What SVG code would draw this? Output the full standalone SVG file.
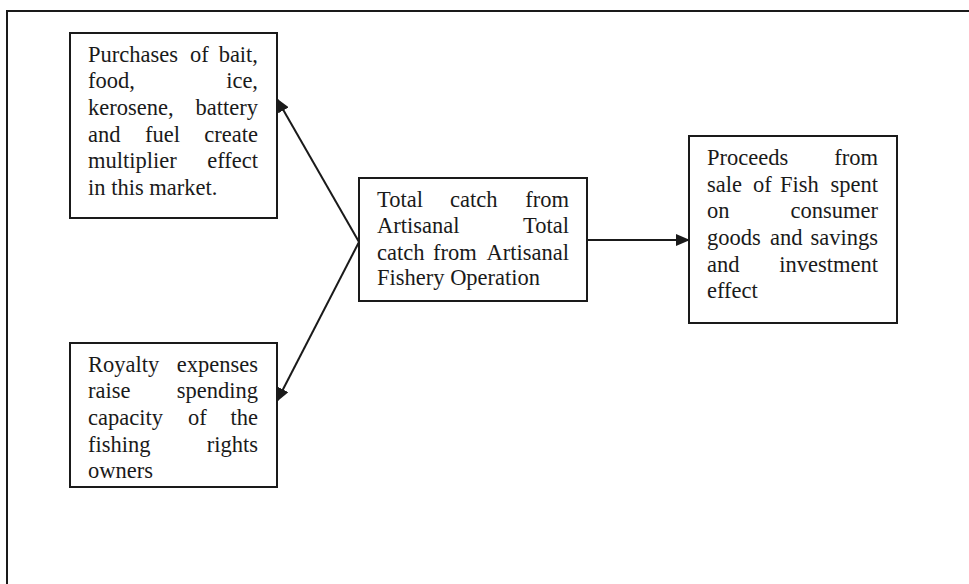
<svg xmlns="http://www.w3.org/2000/svg" width="969" height="584" viewBox="0 0 969 584">
<style>
.box{fill:#fff;stroke:#1a1a1a;stroke-width:2}
.frame{fill:none;stroke:#1a1a1a;stroke-width:2}
.edge{stroke:#1a1a1a;stroke-width:2;fill:none}
text{font-family:"Liberation Serif","Times New Roman",serif;font-size:22.5px;fill:#1a1a1a}
.r{text-anchor:end}
</style>
<defs>
<marker id="ah" markerUnits="userSpaceOnUse" markerWidth="14" markerHeight="12" refX="13" refY="6" orient="auto">
<path d="M0,0 L14,6 L0,12 Z" fill="#1a1a1a"/>
</marker>
</defs>
<rect width="969" height="584" fill="#fff"/>
<path class="frame" d="M7,584 V11 H969"/>
<g id="connectors">
<path class="edge" d="M359,242 L277,99" marker-end="url(#ah)"/>
<path class="edge" d="M359,242 L277,401" marker-end="url(#ah)"/>
<path class="edge" d="M587,240 L689,240" marker-end="url(#ah)"/>
</g>
<g id="purchases">
<rect class="box" x="70" y="33" width="207" height="185"/>
<text x="88" y="62">Purchases</text><text x="190" y="62">of</text><text class="r" x="258" y="62">bait,</text>
<text x="88" y="88">food,</text><text class="r" x="258" y="88">ice,</text>
<text x="88" y="115">kerosene,</text><text class="r" x="258" y="115">battery</text>
<text x="88" y="142">and</text><text x="145" y="142">fuel</text><text class="r" x="258" y="142">create</text>
<text x="88" y="168">multiplier</text><text class="r" x="258" y="168">effect</text>
<text x="88" y="195">in this market.</text>
</g>
<g id="royalty">
<rect class="box" x="70" y="343" width="207" height="144"/>
<text x="88" y="372">Royalty</text><text class="r" x="258" y="372">expenses</text>
<text x="88" y="398">raise</text><text class="r" x="258" y="398">spending</text>
<text x="88" y="425">capacity</text><text x="188" y="425">of</text><text class="r" x="258" y="425">the</text>
<text x="88" y="452">fishing</text><text class="r" x="258" y="452">rights</text>
<text x="88" y="478">owners</text>
</g>
<g id="total">
<rect class="box" x="359" y="178" width="228" height="123"/>
<text x="377" y="207">Total</text><text x="450" y="207">catch</text><text class="r" x="569" y="207">from</text>
<text x="377" y="233">Artisanal</text><text class="r" x="569" y="233">Total</text>
<text x="377" y="260">catch</text><text x="433" y="260">from</text><text class="r" x="569" y="260">Artisanal</text>
<text x="377" y="285">Fishery Operation</text>
</g>
<g id="proceeds">
<rect class="box" x="689" y="136" width="208" height="187"/>
<text x="707" y="165">Proceeds</text><text class="r" x="878" y="165">from</text>
<text x="707" y="192">sale</text><text x="753" y="192">of</text><text x="780" y="192">Fish</text><text class="r" x="878" y="192">spent</text>
<text x="707" y="218">on</text><text class="r" x="878" y="218">consumer</text>
<text x="707" y="245">goods</text><text x="770" y="245">and</text><text class="r" x="878" y="245">savings</text>
<text x="707" y="272">and</text><text class="r" x="878" y="272">investment</text>
<text x="707" y="298">effect</text>
</g>
</svg>
